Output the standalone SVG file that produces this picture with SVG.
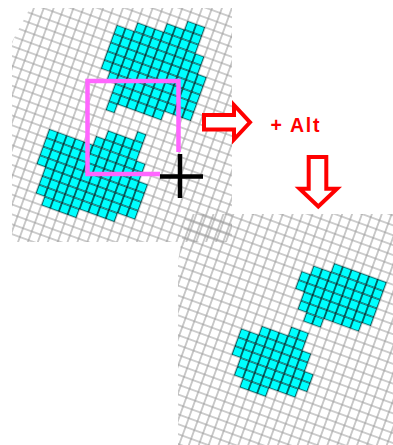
<svg xmlns="http://www.w3.org/2000/svg" width="393" height="445" viewBox="0 0 393 445">
<style>
.blob rect{fill:url(#cp)}
.arr{fill:#fff;stroke:#ff0000;stroke-width:4;stroke-linejoin:miter}
.lbl{font-family:"Liberation Sans",Arial,sans-serif;font-weight:bold;font-size:19.5px;fill:#ff0000}
</style>
<defs>
<pattern id="gp" patternUnits="userSpaceOnUse" width="1" height="1">
<path d="M0 0H1V1H0Z" fill="none" stroke="#9a9a9a" stroke-width="0.11"/>
</pattern>
<pattern id="cp" patternUnits="userSpaceOnUse" width="1" height="1">
<rect width="1" height="1" fill="#00ffff"/>
<path d="M0 0H1V1H0Z" fill="none" stroke="#000" stroke-width="0.12"/>
</pattern>
<clipPath id="c1"><polygon points="30,8 232,8 232,242 12,242 12,42"/></clipPath>
<clipPath id="c2"><polygon points="186,214 393,214 393,445 178,445 178,262"/></clipPath>
</defs>
<rect width="393" height="445" fill="#fff"/>
<g id="grid1" clip-path="url(#c1)">
<g transform="translate(120 125) rotate(20) scale(9.3)">
<rect x="-30" y="-30" width="60" height="60" fill="url(#gp)"/>
<g class="blob" id="blobA">
<rect x="3" y="-13" width="2" height="1"/>
<rect x="1" y="-12" width="4" height="1"/>
<rect x="-2" y="-11" width="7" height="1"/>
<rect x="-4" y="-10" width="10" height="1"/>
<rect x="-4" y="-9" width="10" height="1"/>
<rect x="-4" y="-8" width="11" height="1"/>
<rect x="-4" y="-7" width="11" height="1"/>
<rect x="-4" y="-6" width="11" height="1"/>
<rect x="-3" y="-5" width="10" height="1"/>
<rect x="-2" y="-4" width="9" height="1"/>
<rect x="-2" y="-3" width="6" height="1"/>
<rect x="-2" y="-2" width="1" height="1"/>
</g>
<g class="blob" id="blobB">
<rect x="2" y="0" width="1" height="1"/>
<rect x="-1" y="1" width="4" height="1"/>
<rect x="-2" y="2" width="5" height="1"/>
<rect x="-7" y="3" width="11" height="1"/>
<rect x="-7" y="4" width="11" height="1"/>
<rect x="-7" y="5" width="12" height="1"/>
<rect x="-7" y="6" width="12" height="1"/>
<rect x="-6" y="7" width="11" height="1"/>
<rect x="-6" y="8" width="11" height="1"/>
<rect x="-6" y="9" width="9" height="1"/>
<rect x="-5" y="10" width="4" height="1"/>
</g>
</g>
</g>
<g id="grid2" clip-path="url(#c2)">
<g transform="translate(300 330) rotate(20) scale(9.3)">
<rect x="-30" y="-30" width="60" height="60" fill="url(#gp)"/>
<g class="blob" id="blobC">
<rect x="1" y="-8" width="6" height="1"/>
<rect x="-1" y="-7" width="8" height="1"/>
<rect x="-2" y="-6" width="9" height="1"/>
<rect x="-2" y="-5" width="9" height="1"/>
<rect x="-1" y="-4" width="8" height="1"/>
<rect x="-1" y="-3" width="7" height="1"/>
<rect x="0" y="-2" width="2" height="1"/>
</g>
<g class="blob" id="blobD">
<rect x="-1" y="0" width="2" height="1"/>
<rect x="-4" y="1" width="5" height="1"/>
<rect x="-6" y="2" width="8" height="1"/>
<rect x="-6" y="3" width="8" height="1"/>
<rect x="-6" y="4" width="9" height="1"/>
<rect x="-5" y="5" width="8" height="1"/>
<rect x="-5" y="6" width="7" height="1"/>
<rect x="-4" y="7" width="3" height="1"/>
</g>
</g>
</g>
<g id="selection">
<path d="M178.5,152 V81 H87.5 V174 H160" fill="none" stroke="#ff66ff" stroke-width="4.5"/>
</g>
<g id="cursor">
<path d="M180,154 V198 M160,176.5 H203" fill="none" stroke="#000" stroke-width="4.5"/>
</g>
<g id="connectors">
<path class="arr" d="M204,115 H234 V105 L250,122.3 L234,139.5 V129.5 H204 Z"/>
<path class="arr" d="M308.7,157 H326.3 V188.7 H337 L318.3,206.5 L299.6,188.7 H308.7 Z"/>
</g>
<g id="label">
<text class="lbl" x="270.5" y="131.5" textLength="49" lengthAdjust="spacing">+ Alt</text>
</g>
</svg>
